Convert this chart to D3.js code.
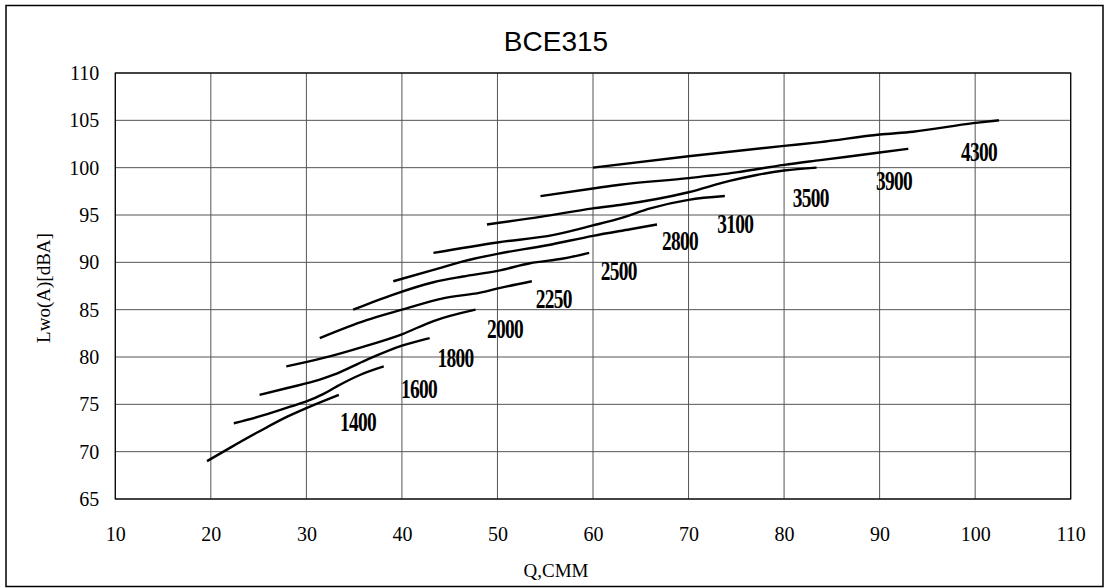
<!DOCTYPE html>
<html><head><meta charset="utf-8">
<script src="https://cdn.jsdelivr.net/npm/d3@7"></script>
<style>body{margin:0;background:#fff}svg{display:block}</style>
</head><body>
<svg id="c" width="1110" height="588"></svg>
<script>
const title = "BCE315";
const xTicks = [10,20,30,40,50,60,70,80,90,100,110];
const yTicks = [65,70,75,80,85,90,95,100,105,110];
const speeds = ["1400","1600","1800","2000","2250","2500","2800","3100","3500","3900","4300"];
const s1400 = [[19.6,69],[22,70.4],[25,72.1],[28,73.7],[30,74.6],[33.4,76]];
const s1600 = [[22.4,73],[25,73.7],[28.3,74.75],[30,75.3],[31.8,76.1],[33.2,76.9],[35.6,78.1],[38.1,79]];
const s1800 = [[25.1,76],[27.9,76.7],[31.4,77.6],[32.8,78.1],[36.3,79.7],[40,81.2],[42.9,82]];
const s2000 = [[27.9,79],[31.8,79.9],[36,81.1],[40,82.4],[43.3,83.8],[47.7,85]];
const s2250 = [[31.4,82],[36.3,83.9],[40,85],[44.3,86.2],[48.2,86.8],[50.3,87.3],[53.6,88]];
const s2500 = [[34.9,85],[39.1,86.6],[43.3,87.9],[46.4,88.5],[50,89.1],[53.4,89.9],[56.9,90.4],[59.6,91]];
const s2800 = [[39.1,88],[43.3,89.2],[46.4,90.1],[50,90.9],[55.2,91.8],[60,92.8],[63.9,93.5],[66.7,94]];
const s3100 = [[43.3,91],[50,92.1],[55.9,92.9],[60,93.9],[63,94.7],[66,95.7],[70,96.6],[73.8,97]];
const s3500 = [[48.9,94],[54.5,94.8],[60,95.7],[62.8,96.05],[70,97.4],[74.3,98.6],[77,99.2],[80,99.7],[83.4,100]];
const s3900 = [[54.5,97],[60,97.8],[62.8,98.2],[70,98.9],[75,99.5],[80,100.3],[83.8,100.8],[90,101.6],[93,102]];
const s4300 = [[60,100],[70,101.2],[80,102.3],[83.8,102.7],[90,103.5],[93.5,103.8],[99.8,104.7],[102.5,105]];
const series = [s1400,s1600,s1800,s2000,s2250,s2500,s2800,s3100,s3500,s3900,s4300];
const labelX = [35.4,41.8,45.6,50.8,55.9,62.7,69.1,74.9,82.8,91.5,100.4];
const labelY = [73.2,76.7,80.0,83.1,86.2,89.2,92.4,94.2,96.9,98.75,101.8];
const xTitle = "Q,CMM";
const yTitle = "Lwo(A)[dBA]";

const svg = d3.select("#c");
const L=115.3, R=1070.7, T=73, B=499;
const x = d3.scaleLinear().domain([10,110]).range([L,R]);
const y = d3.scaleLinear().domain([65,110]).range([B,T]);

svg.append("rect").attr("x",6).attr("y",5.5).attr("width",1097).attr("height",581)
  .attr("fill","none").attr("stroke","#000").attr("stroke-width",1.5);

svg.append("text").attr("x",556).attr("y",51).attr("text-anchor","middle")
  .attr("font-family","Liberation Sans, Arial, sans-serif").attr("font-size",28).text(title);

const g = svg.append("g");
g.selectAll("line.gx").data(xTicks).join("line").attr("class","gx")
  .attr("x1",d=>x(d)).attr("x2",d=>x(d)).attr("y1",T).attr("y2",B)
  .attr("stroke","#555").attr("stroke-width",1);
g.selectAll("line.gy").data(yTicks).join("line").attr("class","gy")
  .attr("y1",d=>y(d)).attr("y2",d=>y(d)).attr("x1",L).attr("x2",R)
  .attr("stroke","#555").attr("stroke-width",1);
g.append("rect").attr("x",L).attr("y",T).attr("width",R-L).attr("height",B-T)
  .attr("fill","none").attr("stroke","#000").attr("stroke-width",1.2);

const xa = d3.axisBottom(x).tickValues(xTicks).tickSize(0).tickPadding(28);
const gx = svg.append("g").attr("transform",`translate(0,${B})`).call(xa);
gx.select(".domain").remove();
gx.selectAll("text").attr("font-family","Liberation Serif, Times New Roman, serif").attr("font-size",20).attr("fill","#000");

const ya = d3.axisLeft(y).tickValues(yTicks).tickSize(0).tickPadding(16);
const gy = svg.append("g").attr("transform",`translate(${L},0)`).call(ya);
gy.select(".domain").remove();
gy.selectAll("text").attr("font-family","Liberation Serif, Times New Roman, serif").attr("font-size",20).attr("fill","#000");

svg.append("text").attr("x",556).attr("y",577).attr("text-anchor","middle")
  .attr("font-family","Liberation Serif, Times New Roman, serif").attr("font-size",19).text(xTitle);
svg.append("text").attr("transform","translate(50,288) rotate(-90)").attr("text-anchor","middle")
  .attr("font-family","Liberation Serif, Times New Roman, serif").attr("font-size",19).text(yTitle);

const line = d3.line().x(d=>x(d[0])).y(d=>y(d[1])).curve(d3.curveMonotoneX);
svg.append("g").selectAll("path").data(series).join("path")
  .attr("d",line).attr("fill","none").attr("stroke","#000").attr("stroke-width",2.4)
  .attr("stroke-linecap","butt");

svg.append("g").selectAll("text").data(speeds).join("text")
  .attr("x",(d,i)=>x(labelX[i])).attr("y",(d,i)=>y(labelY[i])+10)
  .attr("text-anchor","middle")
  .attr("font-family","Liberation Serif, Times New Roman, serif").attr("font-weight","bold")
  .attr("font-size",28).attr("textLength",36).attr("lengthAdjust","spacingAndGlyphs")
  .attr("letter-spacing",-1)
  .text(d=>d);
</script>
</body></html>
